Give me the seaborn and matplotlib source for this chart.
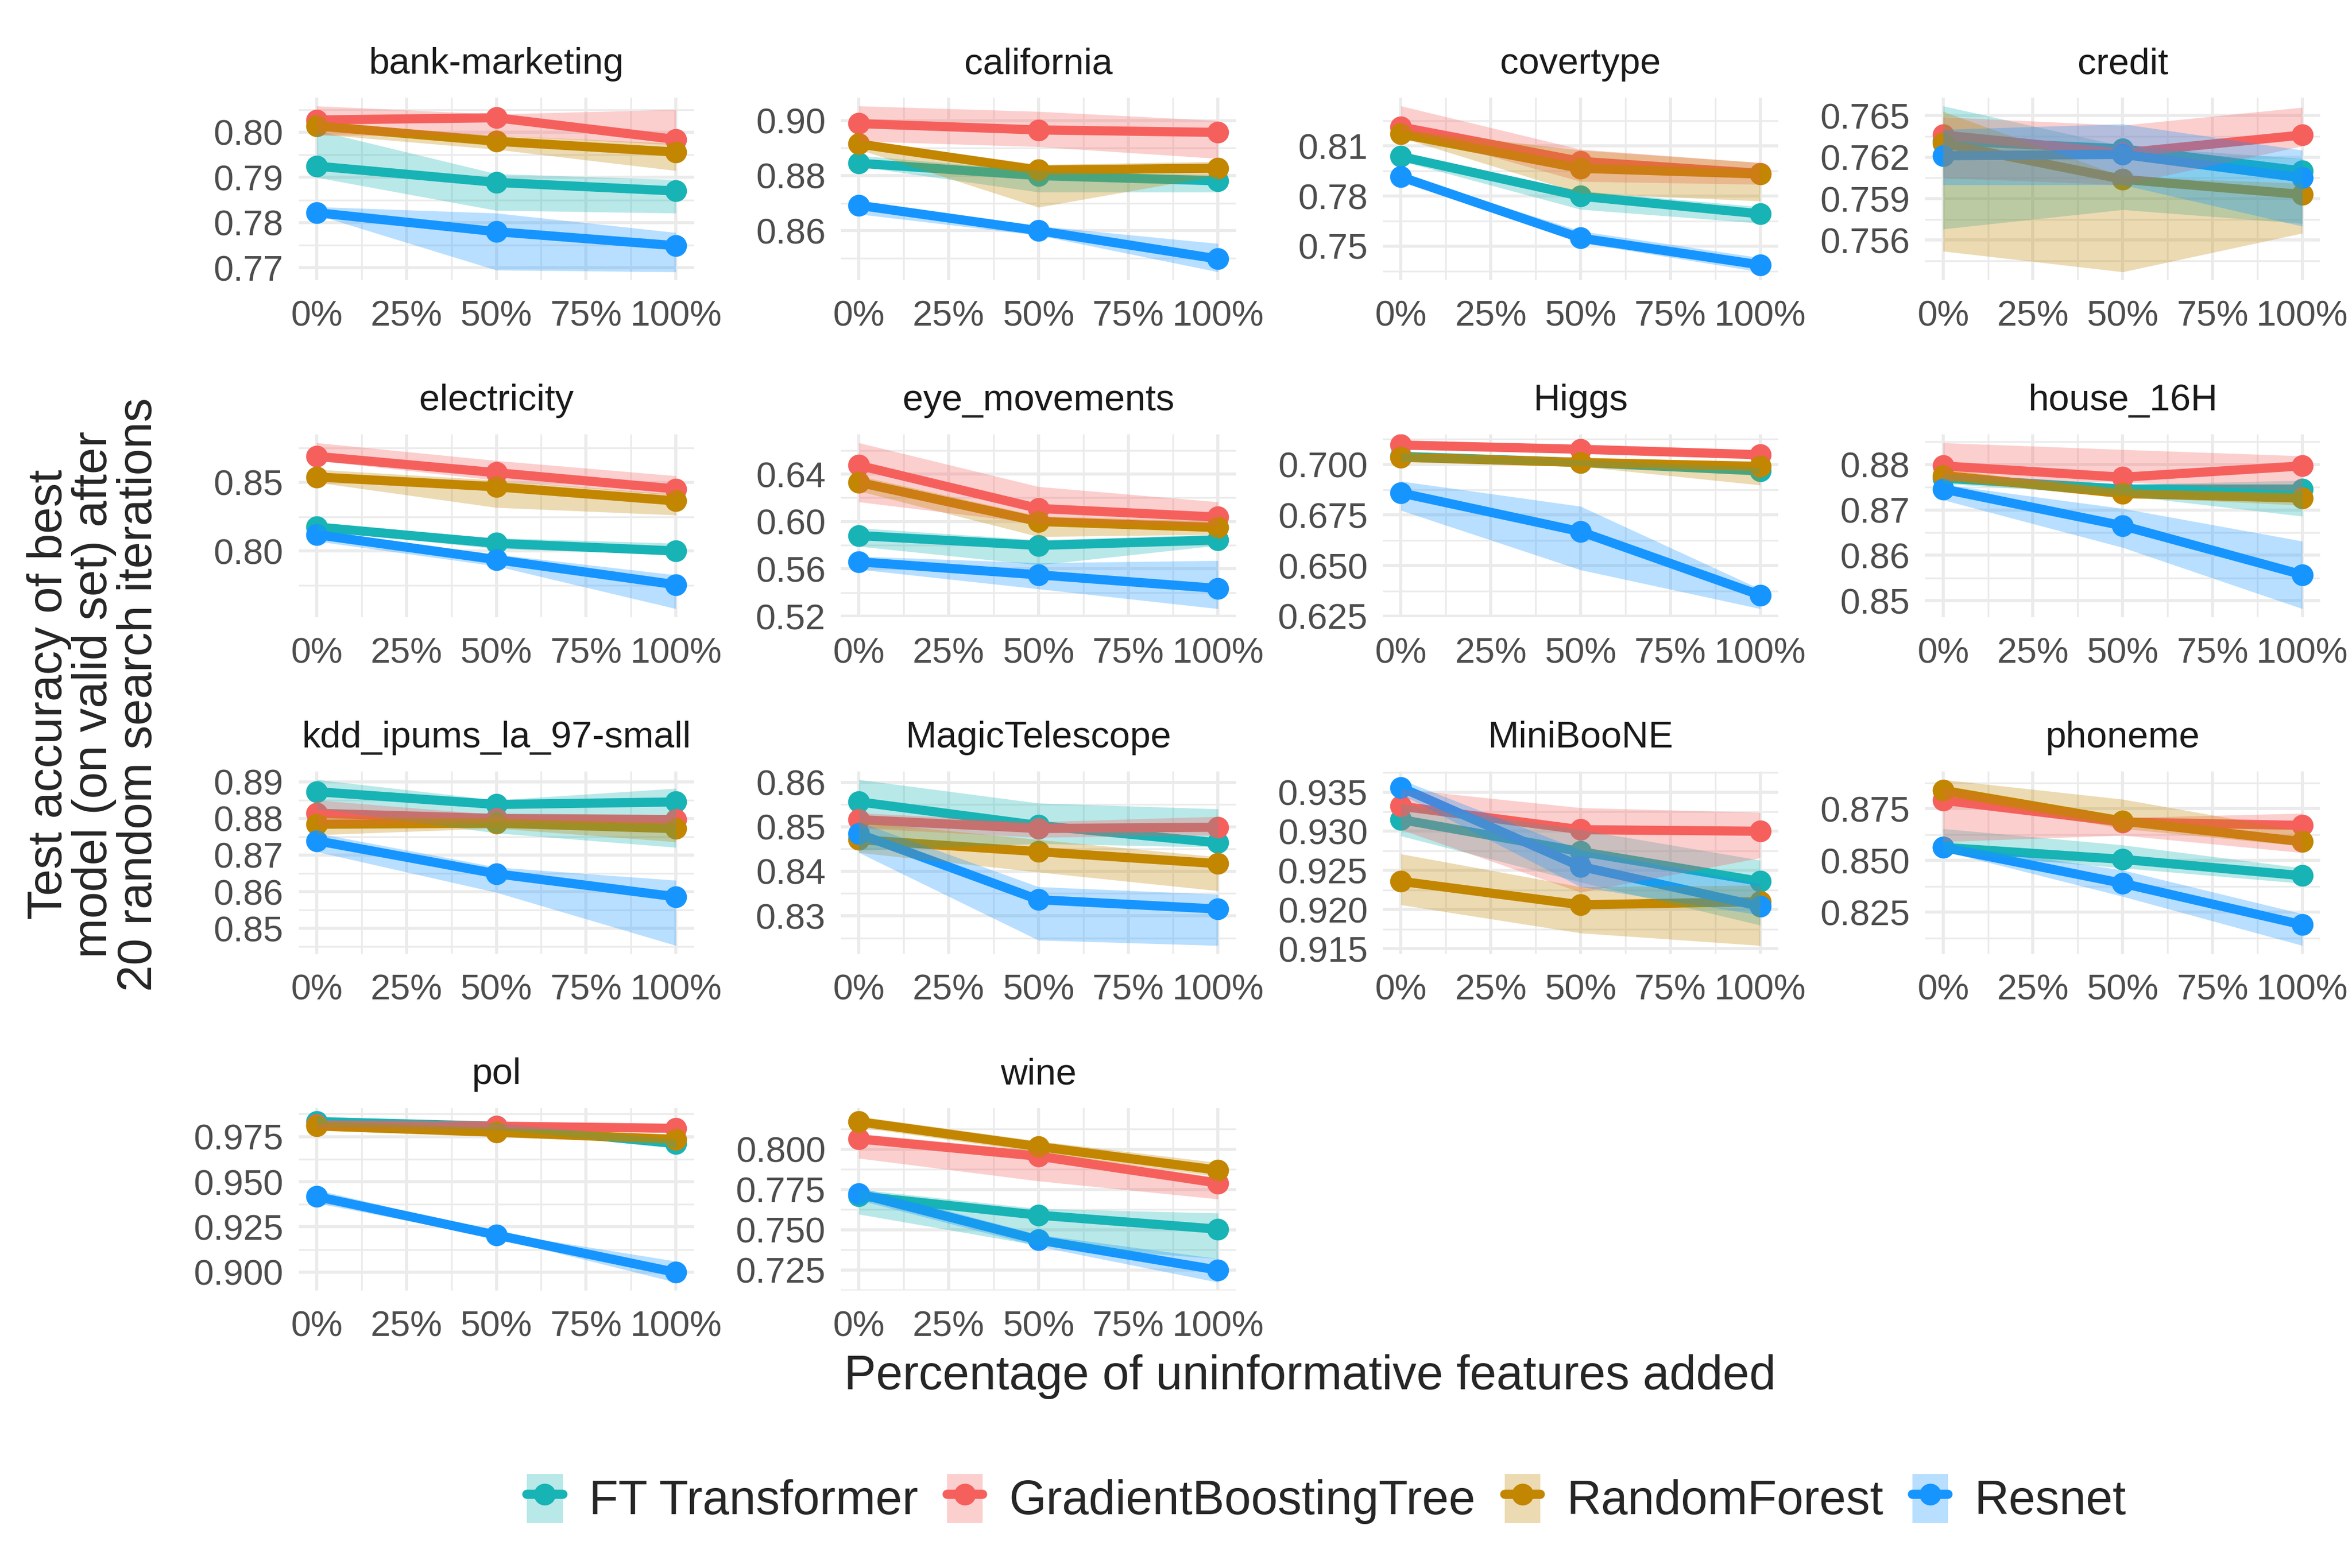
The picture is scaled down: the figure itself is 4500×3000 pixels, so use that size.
import numpy as np
import pandas as pd
import matplotlib
matplotlib.use("Agg")
import matplotlib.pyplot as plt
import seaborn as sns
from matplotlib.patches import Patch
from matplotlib.lines import Line2D
from matplotlib.legend_handler import HandlerTuple

# ------------------------- DATA ------------------------- #
DATASETS = ["bank-marketing", "california", "covertype", "credit",
            "electricity", "eye_movements", "Higgs", "house_16H",
            "kdd_ipums_la_97-small", "MagicTelescope", "MiniBooNE", "phoneme",
            "pol", "wine"]
MODELS = ["FT Transformer", "GradientBoostingTree", "RandomForest", "Resnet"]
PCT = [0, 50, 100]

# one row per dataset (same order as DATASETS), values at 0%, 50%, 100%
ft_mean = [[0.7925, 0.7889, 0.7870], [0.8845, 0.8800, 0.8781], [0.8037, 0.7799, 0.7693],
           [0.7632, 0.7626, 0.7610], [0.8175, 0.8056, 0.8000], [0.5881, 0.5798, 0.5844],
           [0.7040, 0.7010, 0.6968], [0.8770, 0.8746, 0.8746], [0.8873, 0.8838, 0.8845],
           [0.8556, 0.8503, 0.8464], [0.9315, 0.9274, 0.9236], [0.8563, 0.8505, 0.8426],
           [0.9833, 0.9808, 0.9711], [0.7710, 0.7590, 0.7503]]
ft_lo = [[0.7900, 0.7827, 0.7821], [0.8833, 0.8740, 0.8740], [0.8010, 0.7720, 0.7637],
         [0.7568, 0.7582, 0.7572], [0.8150, 0.8016, 0.7976], [0.5790, 0.5633, 0.5798],
         [0.7015, 0.6995, 0.6955], [0.8758, 0.8732, 0.8686], [0.8826, 0.8760, 0.8721],
         [0.8447, 0.8462, 0.8454], [0.9294, 0.9235, 0.9180], [0.8537, 0.8463, 0.8389],
         [0.9800, 0.9790, 0.9690], [0.7596, 0.7402, 0.7320]]
ft_hi = [[0.8004, 0.7908, 0.7895], [0.8873, 0.8817, 0.8800], [0.8060, 0.7831, 0.7735],
         [0.7657, 0.7628, 0.7619], [0.8198, 0.8095, 0.8056], [0.5945, 0.5844, 0.5890],
         [0.7055, 0.7022, 0.6985], [0.8780, 0.8756, 0.8765], [0.8906, 0.8850, 0.8882],
         [0.8606, 0.8553, 0.8540], [0.9335, 0.9302, 0.9263], [0.8653, 0.8574, 0.8463],
         [0.9862, 0.9825, 0.9735], [0.7750, 0.7630, 0.7603]]

gbt_mean = [[0.8027, 0.8032, 0.7984], [0.8989, 0.8966, 0.8957], [0.8214, 0.8008, 0.7936],
            [0.7636, 0.7623, 0.7636], [0.8690, 0.8571, 0.8452], [0.6473, 0.6110, 0.6037],
            [0.7096, 0.7075, 0.7048], [0.8797, 0.8772, 0.8797], [0.8814, 0.8800, 0.8797],
            [0.8516, 0.8496, 0.8499], [0.9332, 0.9302, 0.9300], [0.8790, 0.8685, 0.8669],
            [0.9815, 0.9808, 0.9796], [0.8063, 0.7956, 0.7789]]
gbt_lo = [[0.7993, 0.7993, 0.7972], [0.8925, 0.8905, 0.8862], [0.8190, 0.7887, 0.7870],
          [0.7605, 0.7600, 0.7628], [0.8659, 0.8516, 0.8405], [0.6165, 0.5982, 0.5963],
          [0.7085, 0.7065, 0.7038], [0.8765, 0.8761, 0.8741], [0.8778, 0.8790, 0.8784],
          [0.8497, 0.8476, 0.8481], [0.9302, 0.9222, 0.9266], [0.8590, 0.8621, 0.8537],
          [0.9790, 0.9795, 0.9778], [0.7943, 0.7802, 0.7690]]
gbt_hi = [[0.8058, 0.8040, 0.8050], [0.9053, 0.9033, 0.9000], [0.8340, 0.8080, 0.8000],
          [0.7649, 0.7643, 0.7656], [0.8789, 0.8659, 0.8548], [0.6664, 0.6294, 0.6165],
          [0.7107, 0.7085, 0.7058], [0.8848, 0.8833, 0.8819], [0.8850, 0.8810, 0.8810],
          [0.8531, 0.8511, 0.8523], [0.9354, 0.9330, 0.9324], [0.8853, 0.8706, 0.8727],
          [0.9830, 0.9822, 0.9815], [0.8096, 0.7990, 0.7823]]

rf_mean = [[0.8014, 0.7980, 0.7956], [0.8915, 0.8820, 0.8827], [0.8172, 0.7966, 0.7932],
           [0.7630, 0.7604, 0.7593], [0.8540, 0.8468, 0.8365], [0.6330, 0.6000, 0.5949],
           [0.7035, 0.7010, 0.6990], [0.8776, 0.8736, 0.8726], [0.8784, 0.8787, 0.8772],
           [0.8471, 0.8444, 0.8417], [0.9236, 0.9206, 0.9210], [0.8838, 0.8690, 0.8590],
           [0.9809, 0.9774, 0.9735], [0.8170, 0.8016, 0.7869]]
rf_lo = [[0.7996, 0.7962, 0.7915], [0.8895, 0.8685, 0.8800], [0.8150, 0.7817, 0.7770],
         [0.7552, 0.7537, 0.7565], [0.8500, 0.8317, 0.8262], [0.6257, 0.5872, 0.5890],
         [0.7020, 0.6990, 0.6898], [0.8765, 0.8729, 0.8710], [0.8755, 0.8773, 0.8736],
         [0.8442, 0.8398, 0.8356], [0.9206, 0.9170, 0.9154], [0.8811, 0.8653, 0.8569],
         [0.9790, 0.9758, 0.9718], [0.8136, 0.7980, 0.7829]]
rf_hi = [[0.8022, 0.7993, 0.7975], [0.8930, 0.8840, 0.8851], [0.8200, 0.8075, 0.8000],
         [0.7653, 0.7606, 0.7601], [0.8595, 0.8516, 0.8413], [0.6385, 0.6046, 0.6000],
         [0.7050, 0.7030, 0.7016], [0.8790, 0.8742, 0.8734], [0.8808, 0.8800, 0.8789],
         [0.8511, 0.8471, 0.8432], [0.9271, 0.9229, 0.9231], [0.8890, 0.8795, 0.8642],
         [0.9823, 0.9790, 0.9752], [0.8203, 0.8050, 0.7916]]

resnet_mean = [[0.7822, 0.7780, 0.7749], [0.8692, 0.8600, 0.8497], [0.7915, 0.7548, 0.7387],
               [0.7621, 0.7622, 0.7605], [0.8119, 0.7937, 0.7754], [0.5660, 0.5550, 0.5435],
               [0.6859, 0.6668, 0.6354], [0.8746, 0.8665, 0.8557], [0.8739, 0.8649, 0.8586],
               [0.8484, 0.8336, 0.8315], [0.9356, 0.9255, 0.9204], [0.8563, 0.8389, 0.8189],
               [0.9418, 0.9205, 0.8998], [0.7723, 0.7436, 0.7249]]
resnet_lo = [[0.7817, 0.7695, 0.7691], [0.8660, 0.8583, 0.8450], [0.7900, 0.7520, 0.7345],
             [0.7600, 0.7600, 0.7570], [0.8071, 0.7890, 0.7579], [0.5596, 0.5431, 0.5264],
             [0.6773, 0.6479, 0.6287], [0.8722, 0.8617, 0.8482], [0.8709, 0.8598, 0.8453],
             [0.8442, 0.8245, 0.8233], [0.9347, 0.9229, 0.9193], [0.8545, 0.8326, 0.8089],
             [0.9382, 0.9190, 0.8943], [0.7683, 0.7396, 0.7173]]
resnet_hi = [[0.7835, 0.7821, 0.7778], [0.8707, 0.8617, 0.8553], [0.7930, 0.7590, 0.7430],
             [0.7640, 0.7644, 0.7625], [0.8143, 0.7976, 0.7825], [0.5706, 0.5651, 0.5670],
             [0.6917, 0.6793, 0.6384], [0.8756, 0.8703, 0.8631], [0.8760, 0.8667, 0.8631],
             [0.8511, 0.8365, 0.8348], [0.9366, 0.9276, 0.9233], [0.8580, 0.8453, 0.8242],
             [0.9455, 0.9220, 0.9060], [0.7763, 0.7469, 0.7320]]

# y tick labels per panel
YTICKS = [[0.77, 0.78, 0.79, 0.80], [0.86, 0.88, 0.90], [0.75, 0.78, 0.81],
          [0.756, 0.759, 0.762, 0.765], [0.80, 0.85], [0.52, 0.56, 0.60, 0.64],
          [0.625, 0.650, 0.675, 0.700], [0.85, 0.86, 0.87, 0.88],
          [0.85, 0.86, 0.87, 0.88, 0.89], [0.83, 0.84, 0.85, 0.86],
          [0.915, 0.920, 0.925, 0.930, 0.935], [0.825, 0.850, 0.875],
          [0.900, 0.925, 0.950, 0.975], [0.725, 0.750, 0.775, 0.800]]
YDEC = [2, 2, 2, 3, 2, 2, 3, 2, 2, 2, 3, 3, 3, 3]
XTICKS = [0, 25, 50, 75, 100]
XLABELS = ["0%", "25%", "50%", "75%", "100%"]

COLORS = ["#17B3B5", "#F5605D", "#C28600", "#1695FF"]

# ------------------------- LONG TABLE ------------------------- #
stats = {"FT Transformer": (ft_mean, ft_lo, ft_hi),
         "GradientBoostingTree": (gbt_mean, gbt_lo, gbt_hi),
         "RandomForest": (rf_mean, rf_lo, rf_hi),
         "Resnet": (resnet_mean, resnet_lo, resnet_hi)}
rows = []
for d, name in enumerate(DATASETS):
    for model in MODELS:
        m, lo, hi = stats[model]
        for j, p in enumerate(PCT):
            rows.append((name, model, p, m[d][j], lo[d][j], hi[d][j]))
df = pd.DataFrame(rows, columns=["dataset", "model", "pct", "acc", "lo", "hi"])

# ------------------------- PLOT ------------------------- #
sns.set_style("white")
plt.rcParams["font.family"] = ["Liberation Sans", "DejaVu Sans"]

fig = plt.figure(figsize=(15, 10), dpi=300)
palette = dict(zip(MODELS, COLORS))

W, H = 0.168, 0.1164
for i, name in enumerate(DATASETS):
    r, c = divmod(i, 4)
    ax = fig.add_axes([0.127 + c * 0.2305, 0.9377 - H - r * 0.2148, W, H])
    sub = df[df["dataset"] == name]
    sns.lineplot(data=sub, x="pct", y="acc", hue="model", hue_order=MODELS,
                 palette=palette, marker="o", markersize=10, markeredgewidth=0,
                 linewidth=4.2, errorbar=None, legend=False, ax=ax, zorder=3)
    for model in MODELS:
        s = sub[sub["model"] == model]
        ax.fill_between(s["pct"], s["lo"], s["hi"], color=palette[model],
                        alpha=0.3, linewidth=0, zorder=4)

    # free y scale with 5% expansion, like the facet panels
    lo_all = min(sub["lo"].min(), sub["acc"].min())
    hi_all = max(sub["hi"].max(), sub["acc"].max())
    pad = 0.05 * (hi_all - lo_all)
    y0, y1 = lo_all - pad, hi_all + pad

    ticks = [t for t in YTICKS[i] if y0 <= t <= y1]
    step = YTICKS[i][1] - YTICKS[i][0]
    minor = [t - step / 2 for t in YTICKS[i]] + [YTICKS[i][-1] + step / 2]
    minor = [t for t in minor if y0 <= t <= y1]
    ax.set_yticks(ticks)
    ax.set_yticklabels([f"{t:.{YDEC[i]}f}" for t in ticks])
    ax.set_yticks(minor, minor=True)
    ax.set_xticks(XTICKS)
    ax.set_xticklabels(XLABELS)
    ax.set_xticks([12.5, 37.5, 62.5, 87.5], minor=True)
    ax.set_xlim(-5, 105)
    ax.set_ylim(y0, y1)

    ax.grid(which="major", color="#EBEBEB", linewidth=1.4)
    ax.grid(which="minor", color="#EBEBEB", linewidth=0.8)
    ax.set_axisbelow(True)
    for sp in ax.spines.values():
        sp.set_visible(False)
    ax.tick_params(which="both", length=0)
    ax.tick_params(axis="x", labelsize=16.5, labelcolor="#4D4D4D", pad=9)
    ax.tick_params(axis="y", labelsize=16.5, labelcolor="#4D4D4D", pad=7)
    ax.set_xlabel("")
    ax.set_ylabel("")
    ax.set_title(name, fontsize=17, color="#1A1A1A", pad=11)

fig.text(0.557, 0.122, "Percentage of uninformative features added",
         ha="center", va="center", fontsize=22)
fig.text(0.040, 0.557,
         "Test accuracy of best\nmodel (on valid set) after\n20 random search iterations",
         ha="center", va="center", rotation=90, fontsize=22, linespacing=1.0)

handles = [(Patch(facecolor=c, alpha=0.3, edgecolor="none"),
            Line2D([], [], color=c, linewidth=4.2, marker="o", markersize=10,
                   markeredgewidth=0)) for c in COLORS]
fig.legend(handles, MODELS, handler_map={tuple: HandlerTuple(ndivide=1, pad=0)},
           loc="center", bbox_to_anchor=(0.564, 0.044), ncol=4, frameon=False,
           fontsize=22, handlelength=0.75, handleheight=1.2, handletextpad=0.55,
           columnspacing=0.6)

fig.savefig("out.png", dpi=300, facecolor="white")
